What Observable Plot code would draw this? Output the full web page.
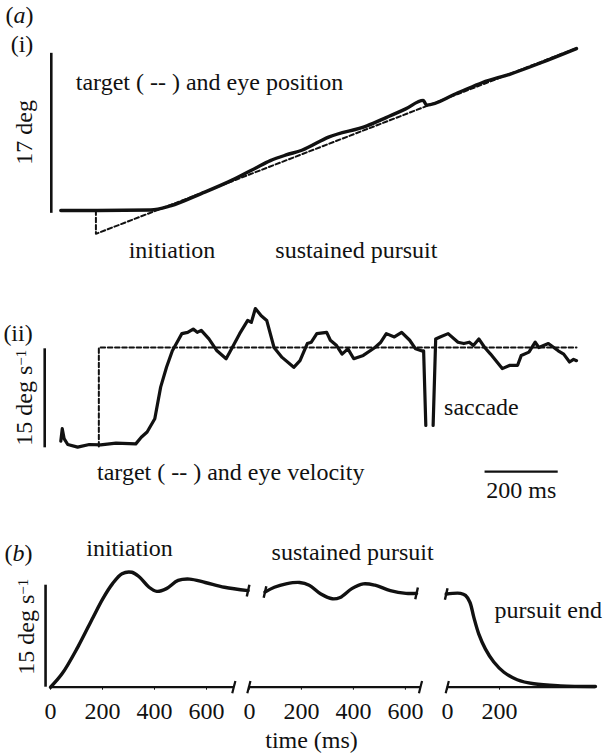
<!DOCTYPE html>
<html>
<head>
<meta charset="utf-8">
<script src="https://cdn.jsdelivr.net/npm/d3@7"></script>
<script src="https://cdn.jsdelivr.net/npm/@observablehq/plot@0.6"></script>
<style>
  html, body { margin: 0; padding: 0; background: white; }
  #chart { width: 605px; height: 755px; position: relative; overflow: hidden; }
  #chart > div { line-height: 0; }
  svg { display: block; }
</style>
</head>
<body>
<div id="chart"></div>
<script>
// ---------- (a)(i) position (time ms, deg) ----------
const eyePosT   = [0, 100, 246, 300, 384, 467, 532, 573, 616, 659, 732, 837, 891, 943, 991, 1000, 1080, 1153, 1229, 1313, 1410];
const eyePosDeg = [0, 0, 0.05, 0.5, 1.8, 3.2, 4.5, 5.3, 5.9, 6.4, 7.8, 9.0, 9.9, 10.8, 11.7, 11.2, 12.4, 13.6, 14.5, 15.7, 17.2];
const targetPosT   = [96, 96, 1410];
const targetPosDeg = [0, -2.48, 17.25];

// ---------- (a)(ii) velocity (time ms, deg/s) ----------
const eyeVelT = [0, 4, 9, 19, 46, 78, 109, 151, 205, 220, 236, 257, 273, 289, 305, 321, 331, 347, 362, 373, 384, 405, 427, 452, 467, 489, 511, 521, 532, 548, 563, 583, 605, 637, 654, 674, 685, 700, 727, 737, 754, 769, 785, 801, 827, 859, 875, 890, 912, 932, 954, 970, 986, 992, 998, 1008, 1018, 1025, 1037, 1059, 1086, 1102, 1117, 1128, 1143, 1159, 1175, 1207, 1228, 1249, 1259, 1280, 1297, 1307, 1333, 1360, 1375, 1391, 1402, 1410];
const eyeVelV = [0.8, 2.7, 1.2, 0.3, -0.1, 0.3, 0.25, 0.5, 0.4, 1.4, 2.2, 4.2, 9.0, 12.0, 14.5, 16.1, 17.1, 17.3, 17.8, 17.3, 17.6, 16.3, 14.5, 13.3, 14.8, 17.1, 19.1, 18.8, 20.9, 19.8, 19.1, 15.0, 13.5, 12.0, 13.0, 15.6, 15.8, 17.1, 17.3, 16.1, 15.3, 14.0, 14.8, 13.3, 13.8, 15.0, 15.8, 17.1, 16.6, 17.3, 16.1, 14.8, 14.5, 14.5, 3.2, null, 3.2, 16.3, 16.6, 17.1, 15.8, 15.6, 15.8, 15.3, 16.3, 15.0, 14.0, 11.8, 12.3, 12.3, 13.8, 14.3, 15.8, 15.0, 15.6, 14.5, 14.0, 12.8, 13.2, 13.0];
const targetVelT = [104, 104, 1410];
const targetVelV = [0, 15, 15];

// ---------- (b) schematic velocity, three pieces (local time ms, deg/s) ----------
const initT = [0, 45, 105, 164, 201, 238, 275, 313, 342, 379, 409, 446, 491, 535, 595, 669, 760];
const initV = [0, 2.0, 5.9, 10.3, 13.0, 15.2, 16.7, 16.9, 16.2, 14.7, 14.1, 14.5, 15.7, 15.9, 15.4, 14.7, 14.2];
const sustT = [60, 96, 141, 193, 230, 275, 319, 349, 394, 438, 483, 542, 602, 643];
const sustV = [14.0, 14.7, 15.2, 15.4, 15.0, 13.7, 13.0, 13.2, 14.5, 15.2, 15.0, 14.2, 13.8, 13.8];
const endT = [-5, 50, 69, 86, 101, 120, 146, 178, 217, 268, 332, 435, 569];
const endV = [13.7, 13.8, 13.5, 12.5, 10.3, 7.85, 5.6, 3.7, 2.2, 1.1, 0.5, 0.2, 0.1];
const pieceNames = ["initiation", "sustained pursuit", "pursuit end"];
const pieceTicks = [[0, 200, 400, 600], [0, 200, 400, 600], [0, 200]];
const pieceAxisEnd = [705, 658, 569];
const pieceAxisStart = [0, -2, -1];

// ---------- layout (not data) ----------
const pieceOffset = [0, 765, 1527];
const FONT = "'Liberation Serif', 'Times New Roman', Times, serif";
const FS = 24;

const posEye = eyePosT.map((t, i) => ({t, v: eyePosDeg[i]}));
const posTarget = targetPosT.map((t, i) => ({t, v: targetPosDeg[i]}));
const velEye = eyeVelT.map((t, i) => ({t, v: eyeVelV[i]}));
const velTarget = targetVelT.map((t, i) => ({t, v: targetVelV[i]}));
const pieces = [[initT, initV], [sustT, sustV], [endT, endV]].flatMap(([T, V], k) =>
  T.map((t, i) => ({t: t + pieceOffset[k], v: V[i], piece: pieceNames[k]})));

// break marks at the joined ends of the pieces
const curveBreaks = [];
[[initT, initV], [sustT, sustV], [endT, endV]].forEach(([T, V], k) => {
  if (k > 0) curveBreaks.push({t: T[0] + pieceOffset[k], v: V[0]});
  if (k < 2) curveBreaks.push({t: T[T.length - 1] + pieceOffset[k], v: V[V.length - 1]});
});
const axisSegs = pieceAxisEnd.map((e, k) => ({from: pieceAxisStart[k] + pieceOffset[k], to: e + pieceOffset[k], v: 0}));
const axisBreaks = [];
axisSegs.forEach((s, k) => {
  if (k > 0) axisBreaks.push({t: s.from, v: 0});
  if (k < 2) axisBreaks.push({t: s.to, v: 0});
});
const tickVals = pieceTicks.flatMap((ts, k) => ts.map(t => t + pieceOffset[k]));
function tickLabel(d) {
  let k = 0;
  for (let i = 0; i < pieceOffset.length; i++) if (d >= pieceOffset[i]) k = i;
  return String(Math.round(d - pieceOffset[k]));
}

// labels
const labels1 = [
  {text: "(a)", t: -151, v: 20.7, a: "start"},
  {text: "(i)", t: -137, v: 17.7, a: "start"},
  {text: "17 deg", t: -99, v: 8.3, a: "middle", r: -90},
  {text: "target ( -- ) and eye position", t: 41, v: 13.6, a: "start"},
  {text: "initiation", t: 304, v: -4.2, a: "middle"},
  {text: "sustained pursuit", t: 808, v: -4.2, a: "middle"}
];
const labels2 = [
  {text: "(ii)", t: -157, v: 17.1, a: "start"},
  {text: "15 deg s⁻¹", t: -99, v: 7.4, a: "middle", r: -90},
  {text: "target ( -- ) and eye velocity", t: 99, v: -3.9, a: "start"},
  {text: "saccade", t: 1048, v: 6.0, a: "start"},
  {text: "200 ms", t: 1259, v: -6.7, a: "middle"}
];
const labels3 = [
  {text: "(b)", t: -177, v: 19.7, a: "start"},
  {text: "initiation", t: 304, v: 20.4, a: "middle"},
  {text: "sustained pursuit", t: 1162, v: 19.9, a: "middle"},
  {text: "pursuit end", t: 1708, v: 11.3, a: "start"},
  {text: "15 deg s⁻¹", t: -92, v: 8.9, a: "middle", r: -90},
  {text: "time (ms)", t: 1004, v: -7.8, a: "middle"}
];

function textMarks(labels) {
  return ["start", "middle"].map(a => Plot.text(labels.filter(d => d.a === a), {
    x: "t", y: "v", text: "text", rotate: d => d.r || 0,
    textAnchor: a, fontSize: FS, fontFamily: FONT, fill: "#111"
  }));
}

const baseStyle = {fontFamily: FONT, fontSize: FS + "px", background: "white", overflow: "visible", color: "#111"};

// Panel (a)(i)
const p1 = Plot.plot({
  width: 605, height: 262, margin: 0,
  x: {domain: [0, 1410], range: [60.3, 576], axis: null},
  y: {domain: [0, 17], range: [210, 50], axis: null},
  style: baseStyle,
  marks: [
    Plot.ruleX([{t: -26, lo: -0.3, hi: 16.7}], {x: "t", y1: "lo", y2: "hi", strokeWidth: 2.6, stroke: "#111"}),
    Plot.line(posTarget, {x: "t", y: "v", strokeWidth: 2, strokeDasharray: "4.5,2.7", stroke: "#111"}),
    Plot.line(posEye, {x: "t", y: "v", strokeWidth: 3.4, curve: "monotone-x", stroke: "#111"}),
    ...textMarks(labels1)
  ]
});

// Panel (a)(ii)
const p2 = Plot.plot({
  width: 605, height: 240, margin: 0,
  x: {domain: [0, 1410], range: [60.3, 576], axis: null},
  y: {domain: [0, 15], range: [184, 85], axis: null},
  style: baseStyle,
  marks: [
    Plot.ruleX([{t: -44, lo: -0.2, hi: 14.8}], {x: "t", y1: "lo", y2: "hi", strokeWidth: 2.6, stroke: "#111"}),
    Plot.ruleY([{lo: 1160, hi: 1360, v: -3.8}], {x1: "lo", x2: "hi", y: "v", strokeWidth: 2.2, stroke: "#111"}),
    Plot.line(velTarget, {x: "t", y: "v", strokeWidth: 2, strokeDasharray: "4.5,2.7", stroke: "#111"}),
    Plot.line(velEye, {x: "t", y: "v", strokeWidth: 3.2, stroke: "#111", strokeLinejoin: "round"}),
    ...textMarks(labels2)
  ]
});

// Panel (b)
const p3 = Plot.plot({
  width: 605, height: 253,
  marginTop: 0, marginLeft: 0, marginRight: 0, marginBottom: 68.3,
  x: {domain: [0, 2100], range: [50, 596], ticks: tickVals, tickFormat: tickLabel, tickSize: 3, tickPadding: 12, label: null},
  y: {domain: [0, 15], range: [184.7, 82.7], axis: null},
  style: baseStyle,
  marks: [
    Plot.ruleX([{t: -19, lo: 0, hi: 15}], {x: "t", y1: "lo", y2: "hi", strokeWidth: 2.6, stroke: "#111"}),
    Plot.ruleY(axisSegs, {x1: "from", x2: "to", y: "v", strokeWidth: 2.2, stroke: "#111"}),
    Plot.link(axisBreaks, {x1: d => d.t - 6, y1: d => d.v - 0.9, x2: d => d.t + 6, y2: d => d.v + 0.9, strokeWidth: 2.2, stroke: "#111"}),
    Plot.line(pieces, {x: "t", y: "v", z: "piece", strokeWidth: 3.4, curve: "catmull-rom", stroke: "#111"}),
    Plot.link(curveBreaks, {x1: d => d.t - 5, y1: d => d.v - 0.85, x2: d => d.t + 5, y2: d => d.v + 0.85, strokeWidth: 2.4, stroke: "#111"}),
    ...textMarks(labels3)
  ]
});

const chart = document.getElementById("chart");
for (const p of [p1, p2, p3]) {
  const div = document.createElement("div");
  div.appendChild(p);
  chart.appendChild(div);
}

// typographic touches: italic panel letters, superscript exponent
const NS = "http://www.w3.org/2000/svg";
for (const t of chart.querySelectorAll("text")) {
  const s = t.textContent;
  if (/^\([ab]\)$/.test(s)) {
    t.textContent = "(";
    const it = document.createElementNS(NS, "tspan");
    it.setAttribute("font-style", "italic");
    it.textContent = s[1];
    t.appendChild(it);
    t.appendChild(document.createTextNode(")"));
  } else if (s.endsWith("⁻¹")) {
    t.textContent = s.slice(0, -2);
    const sup = document.createElementNS(NS, "tspan");
    sup.setAttribute("dy", "-0.45em");
    sup.setAttribute("font-size", "15");
    sup.textContent = "−1";
    t.appendChild(sup);
  }
}
</script>
</body>
</html>
